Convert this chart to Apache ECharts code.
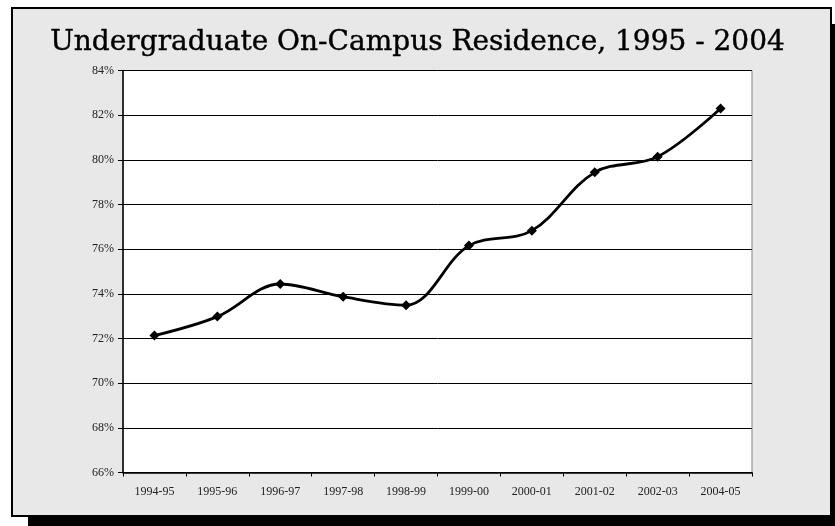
<!DOCTYPE html>
<html>
<head>
<meta charset="utf-8">
<script src="https://cdn.jsdelivr.net/npm/echarts@6/dist/echarts.min.js"></script>
<style>
html,body{margin:0;padding:0;background:#fff;}
#c{width:835px;height:526px;}
</style>
</head>
<body>
<div id="c"></div>
<script>
var titleText = 'Undergraduate On-Campus Residence, 1995 - 2004';
var categories = ['1994-95','1995-96','1996-97','1997-98','1998-99','1999-00','2000-01','2001-02','2002-03','2004-05'];
var residence = [72.13, 72.98, 74.44, 73.87, 73.49, 76.16, 76.83, 79.44, 80.14, 82.30];
var yMin = 66, yMax = 84, yStep = 2;

var chart = echarts.init(document.getElementById('c'), null, {renderer:'canvas'});
chart.setOption({
  animation: false,
  backgroundColor: '#ffffff',
  graphic: [
    {type:'rect', z:-100, shape:{x:28, y:24, width:830, height:502}, style:{fill:'#000'}},
    {type:'rect', z:-99, shape:{x:12, y:8, width:819, height:508}, style:{fill:'#e8e8e8', stroke:'#000', lineWidth:2}}
  ],
  title: {
    text: titleText,
    left: 'center',
    top: 24,
    textStyle: {fontFamily:'DejaVu Serif', fontWeight:'normal', fontSize:28, color:'#000', textBorderColor:'#000', textBorderWidth:0.4}
  },
  grid: {
    left: 123, right: 83, top: 70.5, bottom: 53.5,
    show: true, backgroundColor:'#fff', borderColor:'#808080', borderWidth:1
  },
  xAxis: {
    type: 'category',
    data: categories,
    boundaryGap: true,
    axisLine: {lineStyle:{color:'#000', width:1.5}},
    axisTick: {show:true, length:4, inside:false, lineStyle:{color:'#000'}},
    axisLabel: {fontFamily:'Liberation Serif', fontSize:12, color:'#222', margin:13},
    splitLine: {show:false}
  },
  yAxis: {
    type: 'value',
    min: yMin, max: yMax, interval: yStep,
    axisLine: {show:true, lineStyle:{color:'#000', width:1.5}},
    axisTick: {show:true, length:5, lineStyle:{color:'#000'}},
    axisLabel: {fontFamily:'Liberation Serif', fontSize:12, color:'#222', margin:9, formatter:'{value}%'},
    splitLine: {show:true, lineStyle:{color:'#000', width:1}}
  },
  series: [{
    type: 'line',
    data: residence,
    smooth: 0.35,
    symbol: 'diamond',
    symbolSize: 10,
    lineStyle: {color:'#000', width:2.8},
    itemStyle: {color:'#000'}
  }]
});
</script>
</body>
</html>
